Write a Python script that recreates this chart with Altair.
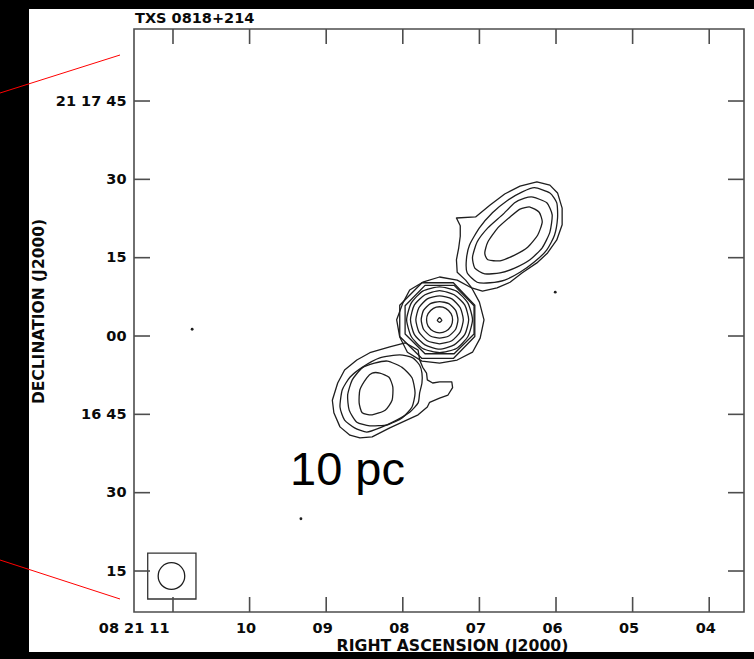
import altair as alt
import pandas as pd

# ---------------- axis ticks / labels ----------------
ra_ticks = [11, 10, 9, 8, 7, 6, 5, 4]
ra_labels = ["08 21 11", "10", "09", "08", "07", "06", "05", "04"]
dec_ticks = [15, 30, 45, 60, 75, 90, 105]
dec_labels = ["15", "30", "16 45", "00", "15", "30", "21 17 45"]

ra_domain = [3.546, 11.509]      # RA seconds (08h21m..s)
dec_domain = [7.15, 118.79]      # Dec arcsec within 21d16m

# ---------------- contours (RA s, Dec arcsec) ----------------
# northern lobe
N1 = [(6.25, 89.5), (6.08, 88.9), (5.98, 87.4), (5.92, 84.5), (5.92, 81.3), (5.99, 78.4),
      (6.11, 75.9), (6.25, 74.0), (6.44, 72.1), (6.60, 70.3), (6.77, 69.2), (6.96, 68.6),
      (7.10, 69.2), (7.18, 70.7), (7.29, 72.2), (7.30, 74.6), (7.27, 76.9), (7.25, 79.1),
      (7.25, 81.1), (7.30, 82.6), (7.05, 82.8), (6.86, 85.1), (6.67, 87.2), (6.47, 88.7)]
N2 = [(6.28, 88.4), (6.08, 87.4), (5.99, 85.5), (5.98, 82.6), (6.02, 79.3), (6.12, 76.5),
      (6.28, 74.2), (6.47, 72.2), (6.67, 70.7), (6.86, 70.2), (7.03, 70.3), (7.16, 72.1),
      (7.17, 74.6), (7.13, 77.4), (7.00, 80.7), (6.83, 83.6), (6.63, 86.0), (6.44, 87.6)]
N3 = [(6.30, 86.6), (6.12, 85.5), (6.05, 83.2), (6.08, 79.9), (6.18, 76.9), (6.34, 74.6),
      (6.54, 73.0), (6.73, 72.1), (6.93, 71.9), (7.06, 73.0), (7.09, 75.1), (7.03, 78.0),
      (6.89, 80.7), (6.70, 83.2), (6.54, 85.5), (6.41, 86.4)]
N4 = [(6.34, 84.7), (6.22, 83.7), (6.18, 81.8), (6.24, 79.3), (6.37, 77.0), (6.54, 75.5),
      (6.73, 74.4), (6.89, 74.6), (6.93, 75.9), (6.89, 78.0), (6.76, 80.7), (6.60, 82.8),
      (6.47, 84.3)]

# core
C0 = [(7.55, 63.0), (7.52, 63.5), (7.49, 63.0), (7.52, 62.6)]
C1 = [(7.69, 63.1), (7.67, 64.3), (7.60, 65.3), (7.52, 65.6), (7.44, 65.3), (7.37, 64.3),
      (7.35, 63.1), (7.37, 61.9), (7.44, 60.9), (7.52, 60.6), (7.60, 60.9), (7.67, 61.9)]
C2 = [(7.76, 63.1), (7.73, 64.9), (7.64, 66.2), (7.52, 66.6), (7.40, 66.2), (7.31, 64.9),
      (7.28, 63.1), (7.31, 61.3), (7.40, 60.0), (7.52, 59.6), (7.64, 60.0), (7.73, 61.3)]
C3 = [(7.83, 63.1), (7.79, 65.4), (7.68, 67.1), (7.52, 67.7), (7.36, 67.1), (7.25, 65.4),
      (7.21, 63.1), (7.25, 60.8), (7.36, 59.1), (7.52, 58.5), (7.68, 59.1), (7.79, 60.8)]
C4 = [(7.90, 63.1), (7.85, 65.9), (7.71, 67.9), (7.52, 68.7), (7.33, 67.9), (7.19, 65.9),
      (7.14, 63.1), (7.19, 60.3), (7.33, 58.3), (7.52, 57.5), (7.71, 58.3), (7.85, 60.3)]
C5 = [(7.95, 63.1), (7.89, 66.3), (7.74, 68.6), (7.52, 69.4), (7.30, 68.6), (7.15, 66.3),
      (7.09, 63.1), (7.15, 59.9), (7.30, 57.6), (7.52, 56.8), (7.74, 57.6), (7.89, 59.9)]
C6 = [(7.97, 65.8), (7.71, 69.7), (7.33, 69.7), (7.07, 65.8), (7.07, 60.4), (7.33, 56.6),
      (7.71, 56.6), (7.97, 60.4)]
C7 = [(8.04, 65.9), (7.75, 70.2), (7.34, 70.2), (7.06, 65.9), (7.06, 59.9), (7.34, 55.7),
      (7.75, 55.7), (8.04, 59.9)]
C8 = [(8.00, 66.3), (7.91, 68.8), (7.74, 70.3), (7.52, 71.3), (7.29, 70.7), (7.10, 69.2),
      (7.00, 66.5), (6.94, 63.1), (6.99, 59.6), (7.09, 56.9), (7.29, 55.4), (7.52, 54.8),
      (7.75, 55.2), (7.94, 56.9), (8.04, 59.8), (8.08, 63.1)]

# southern lobe
S1 = [(7.97, 58.7), (8.17, 57.9), (8.43, 56.8), (8.60, 55.4), (8.76, 53.5), (8.85, 51.0),
      (8.92, 47.7), (8.90, 45.3), (8.82, 42.6), (8.69, 41.0), (8.56, 40.5), (8.40, 40.7),
      (8.17, 42.4), (7.95, 43.9), (7.80, 44.9), (7.68, 46.4), (7.65, 47.3), (7.52, 48.1),
      (7.41, 48.7), (7.35, 50.1), (7.36, 51.2), (7.52, 51.2), (7.61, 51.0), (7.68, 51.6),
      (7.69, 52.9), (7.74, 54.0), (7.78, 55.4), (7.80, 57.3)]
S2 = [(8.04, 56.4), (8.30, 55.8), (8.53, 54.0), (8.69, 52.1), (8.79, 49.7), (8.82, 46.4),
      (8.76, 43.9), (8.63, 42.4), (8.47, 41.6), (8.30, 42.4), (8.08, 43.9), (7.91, 45.4),
      (7.80, 47.2), (7.78, 49.1), (7.75, 51.0), (7.75, 52.9), (7.78, 54.4), (7.87, 55.8)]
S3 = [(8.20, 55.2), (8.01, 54.0), (7.88, 52.0), (7.84, 49.1), (7.88, 46.4), (8.01, 44.3),
      (8.20, 43.0), (8.43, 42.8), (8.60, 43.5), (8.70, 45.8), (8.72, 48.7), (8.66, 51.6),
      (8.53, 53.9), (8.37, 54.8)]
S4 = [(8.30, 52.9), (8.18, 52.1), (8.13, 50.2), (8.14, 47.7), (8.23, 45.8), (8.40, 44.9),
      (8.53, 45.3), (8.57, 47.2), (8.56, 49.7), (8.47, 52.0), (8.40, 52.9)]

smooth_contours = {"N2": N2, "N3": N3, "N4": N4, "C0": C0, "C1": C1, "C2": C2,
                   "C3": C3, "C4": C4, "C5": C5, "S2": S2, "S3": S3, "S4": S4}
linear_contours = {"N1": N1, "C6": C6, "C7": C7, "C8": C8, "S1": S1}

# isolated noise spots
dots_ra = [10.75, 6.01, 9.33]
dots_dec = [61.3, 68.4, 25.0]

# beam
beam_box_ra = [11.33, 10.70]
beam_box_dec = [18.44, 9.64]
beam_ra = [11.02]
beam_dec = [14.04]

title_text = ["TXS 0818+214"]
scale_text = ["10 pc"]

# ---------------- build tables ----------------
def to_df(contours):
    rows = []
    for name, pts in contours.items():
        for i, (ra, dec) in enumerate(pts):
            rows.append({"cid": name, "i": i, "ra": ra, "dec": dec})
    return pd.DataFrame(rows)

smooth_df = to_df(smooth_contours)
linear_df = to_df(linear_contours)


def label_expr(vals, labs):
    expr = "''"
    for v, l in reversed(list(zip(vals, labs))):
        expr = f"datum.value == {v} ? '{l}' : ({expr})"
    return expr


FONT = "DejaVu Sans"
INK = "#0a0a0a"
FRAME = "#4d4d4d"
LINE = "#1e1e1e"
W, H = 610, 583

x_axis = alt.Axis(
    values=ra_ticks, labelExpr=label_expr(ra_ticks, ra_labels),
    ticks=False, domain=False, grid=False,
    labelFont=FONT, labelFontWeight="bold", labelFontSize=14.5, labelColor=INK,
    labelPadding=9, labelOffset=-4, labelOverlap=False, labelFlush=False,
    labelAlign={"condition": {"test": f"datum.value == {ra_ticks[0]}", "value": "right"},
                "value": "center"},
    title="RIGHT ASCENSION (J2000)", titleFont=FONT, titleFontWeight="bold",
    titleFontSize=15.7, titleColor=INK, titleX=318, titleY=38,
    titleBaseline="alphabetic", titleAlign="center",
)
y_axis = alt.Axis(
    values=dec_ticks, labelExpr=label_expr(dec_ticks, dec_labels),
    ticks=False, domain=False, grid=False,
    labelFont=FONT, labelFontWeight="bold", labelFontSize=14.5, labelColor=INK,
    labelPadding=8, labelOverlap=False, labelFlush=False, labelBaseline="middle",
    title="DECLINATION (J2000)", titleFont=FONT, titleFontWeight="bold",
    titleFontSize=15.5, titleColor=INK, titleX=-91, titleY=282,
    titleBaseline="alphabetic", titleAlign="center", titleAngle=270,
)

X = alt.X("ra:Q", scale=alt.Scale(domain=ra_domain, reverse=True, nice=False, zero=False), axis=x_axis)
Y = alt.Y("dec:Q", scale=alt.Scale(domain=dec_domain, nice=False, zero=False), axis=y_axis)

smooth = alt.Chart(smooth_df).mark_line(
    interpolate="cardinal-closed", tension=0.4, color=LINE, strokeWidth=1.3
).encode(x=X, y=Y, detail="cid:N", order="i:Q")

linear = alt.Chart(linear_df).mark_line(
    interpolate="linear-closed", color=LINE, strokeWidth=1.3, strokeJoin="round"
).encode(x=X, y=Y, detail="cid:N", order="i:Q")

dots = alt.Chart(pd.DataFrame({"ra": dots_ra, "dec": dots_dec})).mark_point(
    shape="circle", filled=True, size=8, color=LINE, opacity=1
).encode(x=X, y=Y)

beam_box = alt.Chart(pd.DataFrame({"ra": [beam_box_ra[0]], "ra2": [beam_box_ra[1]],
                                   "dec": [beam_box_dec[0]], "dec2": [beam_box_dec[1]]})).mark_rect(
    fill=None, stroke="#333333", strokeWidth=1.3
).encode(x=X, x2="ra2:Q", y=Y, y2="dec2:Q")

beam = alt.Chart(pd.DataFrame({"ra": beam_ra, "dec": beam_dec})).mark_point(
    shape="circle", filled=False, size=707, color=LINE, strokeWidth=1.3, opacity=1
).encode(x=X, y=Y)

# inward ticks on all four sides
ra_tick_df = pd.DataFrame({"ra": ra_ticks})
dec_tick_df = pd.DataFrame({"dec": dec_ticks})
tick_style = dict(color=FRAME, strokeWidth=1.6)
t_bottom = alt.Chart(ra_tick_df).mark_rule(**tick_style).encode(x=X, y=alt.value(H), y2=alt.value(H - 15))
t_top = alt.Chart(ra_tick_df).mark_rule(**tick_style).encode(x=X, y=alt.value(0), y2=alt.value(15))
t_left = alt.Chart(dec_tick_df).mark_rule(**tick_style).encode(y=Y, x=alt.value(0), x2=alt.value(16))
t_right = alt.Chart(dec_tick_df).mark_rule(**tick_style).encode(y=Y, x=alt.value(W), x2=alt.value(W - 16))

title = alt.Chart(pd.DataFrame({"t": title_text})).mark_text(
    align="left", baseline="alphabetic", font=FONT, fontWeight="bold", fontSize=14.5, color=INK
).encode(text="t:N", x=alt.value(1), y=alt.value(-6))

scale_label = alt.Chart(pd.DataFrame({"t": scale_text})).mark_text(
    align="left", baseline="alphabetic", font="Liberation Sans", fontSize=47, color="#000000"
).encode(text="t:N", x=alt.value(156), y=alt.value(456))

# black borders of the cut-out and red zoom lines
one = pd.DataFrame({"k": [0]})
band_style = dict(color="#000000")
band_left = alt.Chart(one).mark_rect(**band_style).encode(
    x=alt.value(-134), x2=alt.value(-105), y=alt.value(-29), y2=alt.value(630))
band_top = alt.Chart(one).mark_rect(**band_style).encode(
    x=alt.value(-134), x2=alt.value(620), y=alt.value(-29), y2=alt.value(-20))
band_bottom = alt.Chart(one).mark_rect(**band_style).encode(
    x=alt.value(-134), x2=alt.value(620), y=alt.value(623), y2=alt.value(630))
red_top = alt.Chart(one).mark_rule(color="#ff0000", strokeWidth=1).encode(
    x=alt.value(-134), x2=alt.value(-14), y=alt.value(64), y2=alt.value(26))
red_bottom = alt.Chart(one).mark_rule(color="#ff0000", strokeWidth=1).encode(
    x=alt.value(-134), x2=alt.value(-14), y=alt.value(531), y2=alt.value(570))

chart = alt.layer(
    smooth, linear, dots, beam_box, beam,
    t_bottom, t_top, t_left, t_right,
    title, scale_label,
    band_left, band_top, band_bottom, red_top, red_bottom,
).properties(
    width=W, height=H,
    padding={"left": 134, "top": 29, "right": 10, "bottom": 47},
    autosize=alt.AutoSizeParams(type="none"),
    background="white",
).configure_view(
    stroke=FRAME, strokeWidth=1.6, fill="white"
)

chart.save("out.html", embed_options={"renderer": "svg", "actions": False})
